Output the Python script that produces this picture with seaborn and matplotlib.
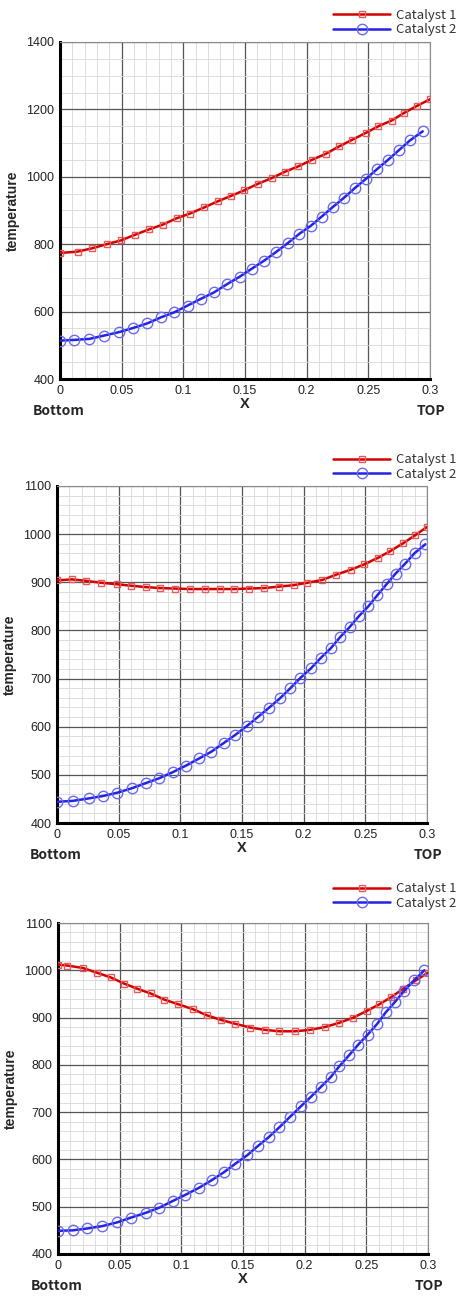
import numpy as np
import pandas as pd
import seaborn as sns
import matplotlib
matplotlib.use("Agg")
import matplotlib.pyplot as plt
from matplotlib.ticker import MultipleLocator

# ---- data (x position, temperature) ----
# panel 1
x1_cat1 = [0.0, 0.0143, 0.0262, 0.0378, 0.0492, 0.0608, 0.0722, 0.0832, 0.0946, 0.1054,
           0.1168, 0.1278, 0.1384, 0.1495, 0.1603, 0.1716, 0.1824, 0.1932, 0.2041, 0.2154,
           0.2262, 0.2370, 0.2478, 0.2581, 0.2689, 0.2792, 0.2892, 0.3000]
t1_cat1 = [774, 778, 788, 800, 811, 828, 844, 858, 877, 891,
           909, 927, 943, 960, 979, 996, 1015, 1031, 1050, 1068,
           1090, 1110, 1130, 1150, 1167, 1190, 1210, 1230]
x1_cat2 = [0.0, 0.0116, 0.0238, 0.0359, 0.0478, 0.0589, 0.0708, 0.0819, 0.0927, 0.1035,
           0.1143, 0.1249, 0.1357, 0.1459, 0.1554, 0.1654, 0.1749, 0.1846, 0.1941, 0.2035,
           0.2122, 0.2211, 0.2303, 0.2392, 0.2481, 0.2568, 0.2662, 0.2751, 0.2838, 0.2941]
t1_cat2 = [514, 516, 519, 529, 539, 551, 565, 583, 598, 618,
           638, 657, 682, 704, 727, 751, 776, 803, 831, 855,
           882, 910, 938, 967, 994, 1022, 1051, 1080, 1108, 1135]

# panel 2
x2_cat1 = [0.0, 0.0121, 0.0237, 0.0358, 0.0484, 0.0597, 0.0721, 0.0839, 0.0955, 0.1076,
           0.1197, 0.1318, 0.1439, 0.1555, 0.1682, 0.1797, 0.1918, 0.2031, 0.2152, 0.2265,
           0.2381, 0.2489, 0.2604, 0.2704, 0.2806, 0.2906, 0.3000]
t2_cat1 = [904, 906, 903, 899, 896, 893, 890, 888, 887, 886,
           886, 886, 886, 887, 888, 891, 894, 899, 905, 916,
           926, 937, 951, 965, 981, 998, 1015]
x2_cat2 = [0.0, 0.0129, 0.0256, 0.0371, 0.0490, 0.0605, 0.0721, 0.0829, 0.0942, 0.1044,
           0.1152, 0.1251, 0.1351, 0.1445, 0.1542, 0.1628, 0.1717, 0.1808, 0.1892, 0.1972,
           0.2058, 0.2139, 0.2220, 0.2295, 0.2373, 0.2449, 0.2524, 0.2597, 0.2672, 0.2745,
           0.2820, 0.2901, 0.2987]
t2_cat2 = [444, 446, 451, 456, 463, 472, 483, 493, 506, 519,
           534, 548, 566, 583, 602, 620, 639, 659, 680, 701,
           721, 743, 763, 786, 807, 830, 850, 873, 896, 918,
           938, 961, 979]

# panel 3
x3_cat1 = [0.0, 0.0076, 0.0200, 0.0314, 0.0427, 0.0535, 0.0643, 0.0751, 0.0862, 0.0976,
           0.1092, 0.1205, 0.1322, 0.1435, 0.1557, 0.1678, 0.1795, 0.1922, 0.2043, 0.2165,
           0.2281, 0.2395, 0.2503, 0.2605, 0.2700, 0.2800, 0.2903, 0.3000]
t3_cat1 = [1012, 1010, 1005, 995, 985, 972, 961, 951, 938, 928,
           918, 905, 895, 887, 879, 874, 871, 871, 874, 880,
           889, 900, 914, 928, 943, 961, 979, 995]
x3_cat2 = [0.0, 0.0119, 0.0238, 0.0359, 0.0481, 0.0592, 0.0711, 0.0822, 0.0930, 0.1032,
           0.1143, 0.1246, 0.1346, 0.1438, 0.1535, 0.1619, 0.1708, 0.1795, 0.1881, 0.1968,
           0.2049, 0.2130, 0.2211, 0.2281, 0.2359, 0.2435, 0.2511, 0.2589, 0.2657, 0.2732,
           0.2808, 0.2889, 0.2970]
t3_cat2 = [449, 450, 454, 459, 467, 477, 487, 498, 512, 525,
           540, 556, 573, 591, 609, 628, 647, 668, 690, 712,
           732, 753, 774, 797, 820, 843, 864, 887, 911, 933,
           957, 979, 1000]

series_names = ["Catalyst 1", "Catalyst 2"]
x_ticklabels = ["0", "0.05", "0.1", "0.15", "0.2", "0.25", "0.3"]
y_limits = [(400, 1400), (400, 1100), (400, 1100)]
y_major = [200, 100, 100]
y_minor = [50, 20, 20]

panels = [
    (x1_cat1, t1_cat1, x1_cat2, t1_cat2),
    (x2_cat1, t2_cat1, x2_cat2, t2_cat2),
    (x3_cat1, t3_cat1, x3_cat2, t3_cat2),
]

sns.set_style("white")
plt.rcParams['font.family'] = ['Liberation Sans', 'DejaVu Sans']

W, H = 457, 1296
fig = plt.figure(figsize=(W / 100, H / 100), dpi=100)

# axes boxes in pixels: left, top, right, bottom
boxes = [(60, 42, 430, 379), (57, 486, 427, 823), (58, 923, 428, 1254)]
legend_centers = [22.5, 467, 896]

red = "#d40000"
blue = "#2323e6"
kr_font = ["Noto Sans CJK KR", "DejaVu Sans"]

for i, (xa, ya, xb, yb) in enumerate(panels):
    l, t, r, b = boxes[i]
    ax = fig.add_axes([l / W, 1 - b / H, (r - l) / W, (b - t) / H])

    df1 = pd.DataFrame({"x": xa, "temperature": ya})
    df2 = pd.DataFrame({"x": xb, "temperature": yb})
    sns.lineplot(data=df1, x="x", y="temperature",
                 color=red, lw=1.8, marker="s", markersize=4.5,
                 markerfacecolor="none", markeredgecolor="#e85a5a", markeredgewidth=1.0,
                 ax=ax, label=series_names[0], zorder=4)
    sns.lineplot(data=df2, x="x", y="temperature",
                 color=blue, lw=1.8, marker="o", markersize=7.5,
                 markerfacecolor="none", markeredgecolor="#6a6af0", markeredgewidth=1.0,
                 ax=ax, label=series_names[1], zorder=4)

    ax.set_xlim(0, 0.3)
    ax.set_ylim(*y_limits[i])
    ax.set_xticks(np.arange(0, 0.31, 0.05))
    ax.set_xticklabels(x_ticklabels)
    ax.xaxis.set_minor_locator(MultipleLocator(0.01))
    ax.yaxis.set_major_locator(MultipleLocator(y_major[i]))
    ax.yaxis.set_minor_locator(MultipleLocator(y_minor[i]))

    ax.grid(which="major", color="#555555", lw=0.9)
    ax.grid(which="minor", color="#d8d8d8", lw=0.6)
    ax.set_axisbelow(True)

    for side in ["top", "right"]:
        ax.spines[side].set_color("#8a8a8a")
        ax.spines[side].set_linewidth(0.8)
    for side in ["left", "bottom"]:
        ax.spines[side].set_color("black")
        ax.spines[side].set_linewidth(2.2)

    ax.tick_params(which="major", direction="in", length=6, width=2, color="black",
                   labelsize=9, labelcolor="#222222", pad=4)
    ax.tick_params(which="minor", direction="in", length=3, width=1, color="black")
    ax.tick_params(top=False, right=False, which="both")

    ax.set_xlabel("X", fontsize=10.5, fontweight="bold", labelpad=0)
    ax.set_ylabel("temperature", fontsize=10, fontweight="bold", labelpad=5)

    ax.annotate("Bottom", xy=(0, 0), xycoords="axes fraction", xytext=(-27, -32),
                textcoords="offset pixels", ha="left", va="center",
                fontsize=10, fontweight="bold", family=kr_font)
    ax.annotate("TOP", xy=(1, 0), xycoords="axes fraction", xytext=(15, -32),
                textcoords="offset pixels", ha="right", va="center",
                fontsize=10, fontweight="bold", family=kr_font)

    ax.legend(loc="center right", bbox_to_anchor=(1.0, 1 - legend_centers[i] / H),
              bbox_transform=fig.transFigure, frameon=False,
              handlelength=4.3, handletextpad=0.45, labelspacing=0.12,
              borderpad=0, borderaxespad=0.05,
              prop={"family": kr_font, "size": 9.5},
              labelcolor="#333333")

fig.savefig("out.png", dpi=100)
